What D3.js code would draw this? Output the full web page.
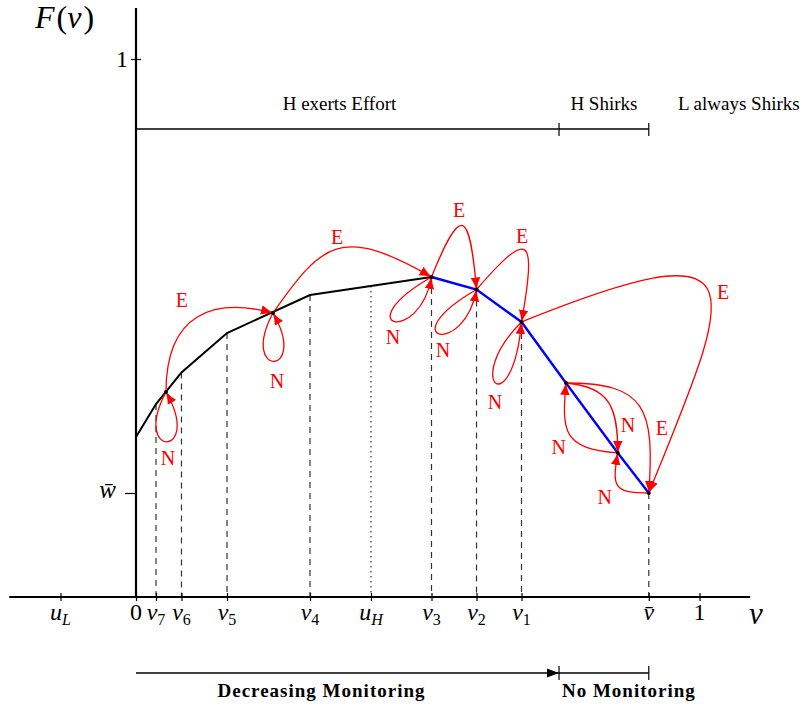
<!DOCTYPE html>
<html>
<head>
<meta charset="utf-8">
<script src="https://cdn.jsdelivr.net/npm/d3@7"></script>
<style>
  body { margin: 0; background: #fff; }
  svg { display: block; }
  text { font-family: "Liberation Serif", "Times New Roman", serif; }
</style>
</head>
<body>
<svg id="chart" width="804" height="710"></svg>
<script>
// values: v along the x axis, F(v) up the y axis
const curveV = [0, 0.0355, 0.0807, 0.1615, 0.3088, 0.5244];
const curveF = [0.2974, 0.3587, 0.4173, 0.4907, 0.5613, 0.5948];
const shirkV = [0.5244, 0.6043, 0.6841, 0.763, 0.855, 0.910];
const shirkF = [0.5948, 0.5716, 0.5112, 0.3978, 0.2677, 0.1933];

const tickV    = [-0.134, 0, 0.0355, 0.0807, 0.1615, 0.3088, 0.417, 0.5244, 0.6043, 0.6841, 0.910, 1];
const tickBase = ["u", "0", "v", "v", "v", "v", "u", "v", "v", "v", "v\u0304", "1"];
const tickSub  = ["L", "", "7", "6", "5", "4", "H", "3", "2", "1", "", ""];
const dashedV  = [0.0355, 0.0807, 0.1615, 0.3088, 0.5244, 0.6043, 0.6841, 0.910];
const uH = 0.417;
const wBar = 0.1933;
const vBar = 0.910;
const vShirk = 0.7507;

const nodeName = ["a", "b", "v3", "v2", "v1", "p", "q", "vbar"];
const nodeV = [0.0532, 0.2431, 0.5244, 0.6043, 0.6841, 0.763, 0.855, 0.910];
const nodeF = [0.381, 0.5279, 0.5948, 0.5716, 0.5112, 0.3978, 0.2677, 0.1933];

const edgeFrom  = ["a", "a", "b", "b",  "v3", "v3", "v2", "v2", "v1", "v1",   "q", "p", "p",    "vbar"];
const edgeTo    = ["a", "b", "b", "v3", "v3", "v2", "v2", "v1", "v1", "vbar", "p", "q", "vbar", "q"];
const edgeLabel = ["N", "E", "N", "E",  "N",  "E",  "N",  "E",  "N",  "E",    "N", "N", "E",    "N"];

// bend of every arrow, tikz style: out / in angle (deg) and handle length (px),
// plus where its letter sits relative to the start node
const edgeBend = [
  {out: -118, in: -60, d1: 76,  d2: 76,  lx: 2,     ly: 66},
  {out: 90,   in: 165, d1: 80,  d2: 60,  lx: 16,    ly: -92},
  {out: -118, in: -60, d1: 74,  d2: 74,  lx: 4,     ly: 68},
  {out: 55,   in: 150, d1: 85,  d2: 105, lx: 64,    ly: -76},
  {out: 210,  in: -100, d1: 100, d2: 70, lx: -38.5, ly: 60},
  {out: 68,   in: 95,  d1: 80,  d2: 80,  lx: 27.5,  ly: -67},
  {out: 210,  in: -100, d1: 100, d2: 70, lx: -33.5, ly: 60.5},
  {out: 49,   in: 80,  d1: 80,  d2: 90,  lx: 45.5,  ly: -53.5},
  {out: 225,  in: -95, d1: 85,  d2: 103, lx: -26.5, ly: 80},
  {out: 22,   in: 68,  d1: 265, d2: 225, lx: 201.5, ly: -30},
  {out: 175,  in: -95, d1: 55,  d2: 50,  lx: -59,   ly: -6},
  {out: -5,   in: 90,  d1: 45,  d2: 45,  lx: 62,    ly: 42},
  {out: 0,    in: 86,  d1: 80,  d2: 85,  lx: 96,    ly: 45},
  {out: 180,  in: -100, d1: 35, d2: 35,  lx: -44,   ly: 4}
];

const svg = d3.select("#chart");
const x = d3.scaleLinear().domain([0, 1]).range([136, 699.5]);
const y = d3.scaleLinear().domain([0, 1]).range([597, 59]);
const xLo = -0.225, xHi = 1.09, yHi = 1.095;   // how far the axis lines run

const allV = curveV.concat(shirkV.slice(1));
const allF = curveF.concat(shirkF.slice(1));
const Fof = d3.scaleLinear().domain(allV).range(allF);

const defs = svg.append("defs");
defs.append("marker").attr("id", "redtip")
    .attr("markerUnits", "userSpaceOnUse")
    .attr("viewBox", "0 -6 13 12").attr("refX", 12).attr("refY", 0)
    .attr("markerWidth", 13).attr("markerHeight", 12).attr("orient", "auto")
  .append("path").attr("d", "M0,-4.8Q5,-2 12,0Q5,2 0,4.8Z").attr("fill", "red");
defs.append("marker").attr("id", "blacktip")
    .attr("markerUnits", "userSpaceOnUse")
    .attr("viewBox", "0 -6 13 12").attr("refX", 12).attr("refY", 0)
    .attr("markerWidth", 13).attr("markerHeight", 12).attr("orient", "auto")
  .append("path").attr("d", "M0,-4.5L12,0L0,4.5Z").attr("fill", "#000");

// dashed drop lines
svg.append("g").selectAll("line").data(dashedV).join("line")
    .attr("x1", d => x(d)).attr("x2", d => x(d))
    .attr("y1", d => y(Fof(d))).attr("y2", y(0))
    .attr("stroke", "#333").attr("stroke-width", 1.2)
    .attr("stroke-dasharray", "6,5");
svg.append("line")
    .attr("x1", x(uH)).attr("x2", x(uH))
    .attr("y1", y(Fof(uH))).attr("y2", y(0))
    .attr("stroke", "#333").attr("stroke-width", 1.2)
    .attr("stroke-dasharray", "1.5,3.5");

// axes
const xAxis = svg.append("g").attr("transform", `translate(0,${y(0)})`)
    .call(d3.axisBottom(x).tickValues(tickV).tickSize(4).tickFormat(""));
xAxis.select(".domain").remove();
xAxis.selectAll(".tick line").attr("y1", -4).attr("y2", 4).attr("stroke-width", 1.2);
svg.append("line").attr("x1", x(xLo)).attr("x2", x(xHi))
    .attr("y1", y(0)).attr("y2", y(0)).attr("stroke", "#000").attr("stroke-width", 2.2);

const xl = svg.append("g").selectAll("text").data(tickV).join("text")
    .attr("x", d => x(d)).attr("y", 620)
    .attr("text-anchor", "middle").attr("font-size", 24);
xl.append("tspan")
    .attr("font-style", (d, i) => /[0-9]/.test(tickBase[i]) ? "normal" : "italic")
    .text((d, i) => tickBase[i]);
xl.append("tspan")
    .attr("font-size", 16).attr("dy", 5)
    .attr("font-style", (d, i) => /[0-9]/.test(tickSub[i]) ? "normal" : "italic")
    .text((d, i) => tickSub[i]);

const yAxis = svg.append("g").attr("transform", `translate(${x(0)},0)`)
    .call(d3.axisLeft(y).tickValues([wBar, 1]).tickSize(10).tickFormat(""));
yAxis.select(".domain").remove();
yAxis.selectAll(".tick line").attr("x2", (d) => d === 1 ? -5 : -11).attr("x1", (d) => d === 1 ? 5 : 0)
    .attr("stroke-width", 1.2);
svg.append("line").attr("x1", x(0)).attr("x2", x(0))
    .attr("y1", y(yHi)).attr("y2", y(0)).attr("stroke", "#000").attr("stroke-width", 2.2);
svg.append("text").attr("x", x(0) - 8).attr("y", y(1) + 8)
    .attr("text-anchor", "end").attr("font-size", 24).text("1");
svg.append("text").attr("x", x(0) - 20).attr("y", y(wBar) + 5)
    .attr("text-anchor", "end").attr("font-size", 25).attr("font-style", "italic").text("w\u0304");

// axis names
const fl = svg.append("text").attr("x", 35).attr("y", 28).attr("font-size", 32);
fl.append("tspan").attr("font-style", "italic").text("F");
fl.append("tspan").attr("dx", 2).text("(");
fl.append("tspan").attr("font-style", "italic").text("v");
fl.append("tspan").attr("dx", 2).text(")");
svg.append("text").attr("x", 756).attr("y", 624).attr("text-anchor", "middle")
    .attr("font-size", 31).attr("font-style", "italic").text("v");

// F(v): black while H exerts effort, blue where it shirks
const line = d3.line().x(d => x(d[0])).y(d => y(d[1]));
svg.append("path").datum(d3.zip(curveV, curveF)).attr("d", line)
    .attr("fill", "none").attr("stroke", "#000").attr("stroke-width", 2);
svg.append("path").datum(d3.zip(shirkV, shirkF)).attr("d", line)
    .attr("fill", "none").attr("stroke", "#0000ff").attr("stroke-width", 2.4);

// transitions between continuation values
const pos = name => {
  const i = nodeName.indexOf(name);
  return [x(nodeV[i]), y(nodeF[i])];
};
const rad = Math.PI / 180;
const edges = edgeFrom.map((f, i) => ({from: f, to: edgeTo[i], label: edgeLabel[i], bend: edgeBend[i]}));

function arcPath(e) {
  const p0 = pos(e.from), p3 = pos(e.to), b = e.bend;
  const p = d3.path();
  p.moveTo(p0[0], p0[1]);
  p.bezierCurveTo(
    p0[0] + b.d1 * Math.cos(b.out * rad), p0[1] - b.d1 * Math.sin(b.out * rad),
    p3[0] + b.d2 * Math.cos(b.in * rad), p3[1] - b.d2 * Math.sin(b.in * rad),
    p3[0], p3[1]);
  return p.toString();
}

svg.append("g").selectAll("path").data(edges).join("path")
    .attr("d", arcPath)
    .attr("fill", "none").attr("stroke", "red").attr("stroke-width", 1.3)
    .attr("marker-end", "url(#redtip)");

svg.append("g").selectAll("circle").data(nodeName).join("circle")
    .attr("cx", d => pos(d)[0]).attr("cy", d => pos(d)[1]).attr("r", 2)
    .attr("fill", "#000");

svg.append("g").selectAll("text").data(edges).join("text")
    .attr("x", e => pos(e.from)[0] + e.bend.lx)
    .attr("y", e => pos(e.from)[1] + e.bend.ly)
    .attr("dy", "0.35em").attr("text-anchor", "middle")
    .attr("font-size", 20).attr("fill", "red")
    .text(e => e.label);

// who does what, above the plot
const topY = 129;
svg.append("line").attr("x1", x(0)).attr("x2", x(vBar)).attr("y1", topY).attr("y2", topY)
    .attr("stroke", "#000").attr("stroke-width", 1.3);
svg.append("g").selectAll("line").data([vShirk, vBar]).join("line")
    .attr("x1", d => x(d)).attr("x2", d => x(d)).attr("y1", topY - 6).attr("y2", topY + 7)
    .attr("stroke", "#000").attr("stroke-width", 1.2);
svg.append("text").attr("x", (x(0) + x(vShirk)) / 2 - 8).attr("y", 110)
    .attr("text-anchor", "middle").attr("font-size", 19).text("H exerts Effort");
svg.append("text").attr("x", (x(vShirk) + x(vBar)) / 2).attr("y", 110)
    .attr("text-anchor", "middle").attr("font-size", 19).text("H Shirks");
svg.append("text").attr("x", x(vBar) + 90).attr("y", 110)
    .attr("text-anchor", "middle").attr("font-size", 19).text("L always Shirks");

// monitoring regime, below the plot
const botY = 673;
svg.append("line").attr("x1", x(0)).attr("x2", x(vShirk)).attr("y1", botY).attr("y2", botY)
    .attr("stroke", "#000").attr("stroke-width", 1.3).attr("marker-end", "url(#blacktip)");
svg.append("line").attr("x1", x(vShirk)).attr("x2", x(vBar)).attr("y1", botY).attr("y2", botY)
    .attr("stroke", "#000").attr("stroke-width", 1.3);
svg.append("g").selectAll("line").data([vShirk, vBar]).join("line")
    .attr("x1", d => x(d)).attr("x2", d => x(d)).attr("y1", botY - 7).attr("y2", botY + 7)
    .attr("stroke", "#000").attr("stroke-width", 1.2);
svg.append("text").attr("x", (x(0) + x(vShirk)) / 2 - 26).attr("y", 697)
    .attr("text-anchor", "middle").attr("font-size", 19).attr("font-weight", "bold")
    .attr("letter-spacing", 1).text("Decreasing Monitoring");
svg.append("text").attr("x", (x(vShirk) + x(vBar)) / 2 + 25).attr("y", 697)
    .attr("text-anchor", "middle").attr("font-size", 19).attr("font-weight", "bold")
    .attr("letter-spacing", 1).text("No Monitoring");
</script>
</body>
</html>
